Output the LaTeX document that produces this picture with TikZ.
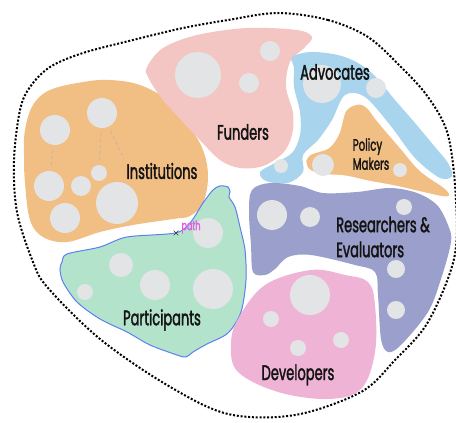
\documentclass[tikz,border=0pt]{standalone}
\usepackage{fontspec}
\setmainfont{Poppins}[FakeStretch=0.62,FakeBold=1.6]
\usetikzlibrary{positioning,shapes.misc}
\definecolor{instorange}{HTML}{F1BE84}
\definecolor{fundpink}{HTML}{F3C6C3}
\definecolor{advblue}{HTML}{A8D4EE}
\definecolor{partgreen}{HTML}{B3E3CB}
\definecolor{partline}{HTML}{5C80F0}
\definecolor{respurple}{HTML}{9B9FCB}
\definecolor{devpink}{HTML}{EFB4D5}
\definecolor{dotgrey}{HTML}{E3E4E6}
\definecolor{pathmag}{HTML}{E45CE8}

\begin{document}
\begin{tikzpicture}[x=1pt,y=-1pt,font={\fontsize{21}{25}\selectfont}]

\tikzset{dot/.style={circle,fill=dotgrey,inner sep=0pt},
lbl/.style={text=black!92,inner sep=1pt},
link/.style={dashed,draw=black!30,line width=.6pt,shorten <=5pt,shorten >=3pt},
border/.style={black,line width=2pt,dash pattern=on 2pt off 1.8pt}}

\useasboundingbox (0,0) rectangle (456,423);

% Outer border
\draw[border] plot[smooth cycle,tension=.55] coordinates {(278,13) (328,20) (368,37) (401,67) (428,97) (448,135) (456,200) (454,259) (428,322) (395,360) (361,392) (295,415) (228,414) (167,385) (100,339) (48,288) (33,262) (17,212) (14,160) (20,110) (30,87) (50,67) (83,53) (133,40) (183,28) (228,20)};

% Blobs
\fill[instorange] plot[smooth cycle,tension=.6] coordinates {(25,130) (33,105) (50,90) (83,82) (110,80) (140,85) (167,100) (187,123) (203,150) (208,177) (203,203) (190,216) (173,219) (133,225) (100,232) (67,242) (43,237) (30,220) (25,183) (24,155)};
\fill[fundpink] plot[smooth cycle,tension=.55] coordinates {(147,67) (163,48) (197,35) (247,28) (297,30) (312,37) (305,47) (290,62) (286,87) (293,113) (292,135) (283,153) (263,166) (240,168) (220,160) (197,137) (163,100) (148,77)};
\fill[advblue] plot[smooth cycle,tension=.55] coordinates {(292,57) (311,52) (338,55) (358,63) (375,76) (395,100) (415,123) (435,147) (448,163) (452,176) (440,178) (415,158) (390,125) (365,97) (345,95) (332,120) (318,140) (303,155) (303,172) (288,183) (266,181) (260,172) (275,163) (292,153) (300,135) (300,112) (294,87) (294,68)};
\draw[instorange,fill=instorange,line width=.1pt] plot[smooth cycle,tension=.55] coordinates {(358,103) (368,107) (378,120) (401,147) (421,170) (445,187) (451,195) (445,198) (421,193) (395,187) (368,182) (345,177) (321,175) (308,170) (305,160) (311,153) (328,147) (338,133) (345,110)};
\draw[white,line width=3pt] plot[smooth cycle,tension=.55] coordinates {(358,103) (368,107) (378,120) (401,147) (421,170) (445,187) (451,195) (445,198) (421,193) (395,187) (368,182) (345,177) (321,175) (308,170) (305,160) (311,153) (328,147) (338,133) (345,110)};
\draw[partline,fill=partgreen,line width=1pt] plot[smooth cycle,tension=.5] coordinates {(175,233) (190,223) (203,203) (213,190) (220,186) (228,187) (230,192) (229,197) (235,207) (240,227) (245,250) (246,280) (241,312) (228,333) (207,344) (193,352) (186,357) (177,355) (150,345) (127,332) (100,319) (77,302) (63,282) (60,269) (62,262) (67,254) (100,247) (127,237)};
\fill[respurple] plot[smooth cycle,tension=.55] coordinates {(252,190) (270,183) (300,186) (323,193) (357,192) (390,188) (417,193) (437,205) (448,225) (451,242) (441,279) (428,312) (401,345) (388,352) (381,339) (378,295) (375,272) (355,265) (311,255) (288,257) (275,269) (265,275) (253,272) (251,245) (249,212)};
\fill[devpink] plot[smooth cycle,tension=.6] coordinates {(311,270) (345,275) (368,282) (375,305) (375,352) (361,389) (328,399) (278,392) (238,372) (231,345) (238,319) (265,285)};

% Grey dots
\foreach \n/\x/\y/\r in {i1/55/130/15, i2/102/113/15, i3/49/186/15, i4/81/186/10, i5/99/173/8, i6/117/203/21, i7/65/218/15,
  f1/198/75/23, f2/270/51/10, f3/249/83/10,
  a1/322/84/19, a2/376/88/10, a3/281/166/7,
  p1/323/165/11, p2/400/170/7,
  g1/121/265/12, g2/155/285/15, g3/85/292/8, g4/213/289/20, g5/208/233/15,
  r1/272/215/15, r2/310/217/10, r3/404/207/8, r4/396/269/9, r5/396/310/9,
  d1/310/295/20, d2/271/319/8, d3/341/340/8, d4/298/348/8}
  \node[dot,minimum size=2*\r pt] (\n) at (\x,\y) {};

% Labels
\node[lbl] (instLabel) at (162,171) {Institutions};
\node[lbl] (fundLabel) at (243,132) {Funders};
\node[lbl] (advLabel) at (335,72) {Advocates};
\node[lbl,align=left,font={\fontsize{16.5}{19}\selectfont}] (polLabel) at (371,154) {Policy\\Makers};
\node[lbl,align=left] (resLabel) at (383,237) {Researchers \&\\Evaluators};
\node[lbl] (partLabel) at (162,320) {Participants};
\node[lbl] (devLabel) at (298,375) {Developers};

% Dashed links
\draw[link] (i1) -- (i3);
\draw[link] (i2) -- (i5);
\draw[link] (i2) -- (instLabel.north west);

% Path marker
\node[cross out,draw=black!80,line width=.6pt,minimum size=4pt,inner sep=0pt] (mark) at (176,233) {};
\node[text=pathmag,font={\fontsize{13}{14}\selectfont},inner sep=0pt] (pathLabel) at (191,227) {path};

\end{tikzpicture}
\end{document}
